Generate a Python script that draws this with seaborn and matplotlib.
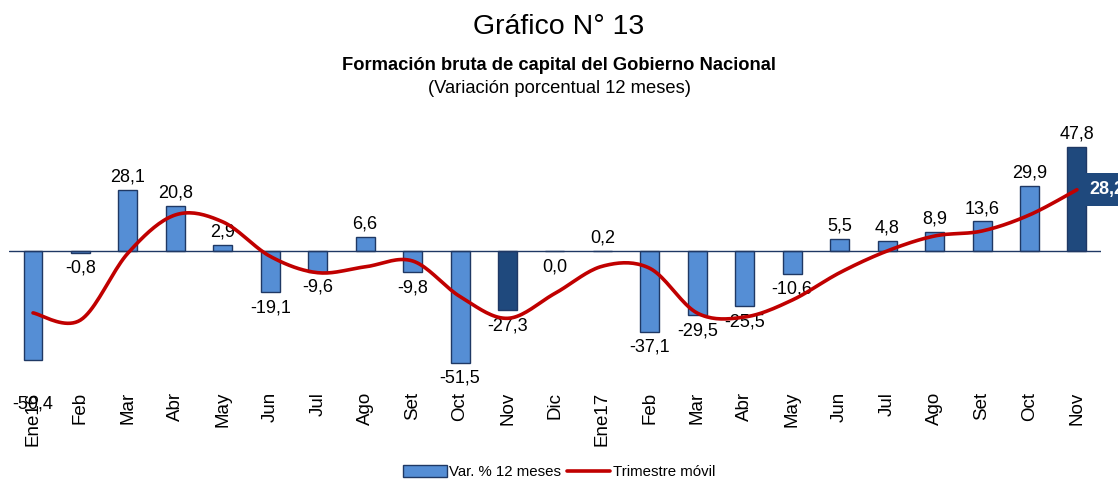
import numpy as np
import pandas as pd
import seaborn as sns
import matplotlib.pyplot as plt
from matplotlib.patches import Patch
from matplotlib.lines import Line2D

# data
periodos = ["Ene16", "Feb16", "Mar16", "Abr16", "May16", "Jun16", "Jul16", "Ago16",
            "Set16", "Oct16", "Nov16", "Dic16", "Ene17", "Feb17", "Mar17", "Abr17",
            "May17", "Jun17", "Jul17", "Ago17", "Set17", "Oct17", "Nov17"]
etiquetas = ["Ene16", "Feb", "Mar", "Abr", "May", "Jun", "Jul", "Ago", "Set", "Oct",
             "Nov", "Dic", "Ene17", "Feb", "Mar", "Abr", "May", "Jun", "Jul", "Ago",
             "Set", "Oct", "Nov"]
var_12m = [-50.4, -0.8, 28.1, 20.8, 2.9, -19.1, -9.6, 6.6, -9.8, -51.5, -27.3, -0.04,
           0.2, -37.1, -29.5, -25.5, -10.6, 5.5, 4.8, 8.9, 13.6, 29.9, 47.8]
trim_movil = [-28.5, -31.8, -1.0, 16.6, 13.4, -2.5, -10.0, -7.3, -4.6, -21.0, -31.0,
              -19.5, -7.0, -8.0, -28.6, -30.4, -22.6, -10.0, 0.0, 6.9, 9.2, 16.6, 28.2]
destacados = ["Nov16", "Nov17"]

C_BAR = "#558ED5"
C_DARK = "#1F497D"
C_EDGE = "#1F3864"
C_LINE = "#C00000"


def smooth(y, steps=20):
    # Excel-style smoothed line (Bezier through the points)
    y = np.asarray(y, dtype=float)
    x = np.arange(len(y), dtype=float)
    xs, ys = [], []
    for i in range(len(y) - 1):
        p0 = (x[i - 1], y[i - 1]) if i > 0 else (x[i], y[i])
        p1 = (x[i], y[i])
        p2 = (x[i + 1], y[i + 1])
        p3 = (x[i + 2], y[i + 2]) if i + 2 < len(y) else p2
        c1 = (p1[0] + (p2[0] - p0[0]) / 6, p1[1] + (p2[1] - p0[1]) / 6)
        c2 = (p2[0] - (p3[0] - p1[0]) / 6, p2[1] - (p3[1] - p1[1]) / 6)
        t = np.linspace(0, 1, steps, endpoint=(i == len(y) - 2))
        b = [(1 - t) ** 3, 3 * (1 - t) ** 2 * t, 3 * (1 - t) * t ** 2, t ** 3]
        xs.append(b[0] * p1[0] + b[1] * c1[0] + b[2] * c2[0] + b[3] * p2[0])
        ys.append(b[0] * p1[1] + b[1] * c1[1] + b[2] * c2[1] + b[3] * p2[1])
    return np.concatenate(xs), np.concatenate(ys)


def fmt(v):
    s = f"{v:.1f}".replace(".", ",")
    return "0,0" if s == "-0,0" else s


df = pd.DataFrame({"periodo": periodos, "var": var_12m})
df["tipo"] = np.where(df["periodo"].isin(destacados), "nov", "normal")

sns.set_style("white")
plt.rcParams["font.family"] = ["Liberation Sans", "DejaVu Sans"]
plt.rcParams["text.color"] = "black"
plt.rcParams["xtick.color"] = "black"

fig = plt.figure(figsize=(11.18, 4.86), dpi=100)
ax = fig.add_axes([0.0083, 0.2078, 0.9762, 0.535])

sns.barplot(data=df, x="periodo", y="var", hue="tipo", dodge=False, width=0.4,
            palette={"normal": C_BAR, "nov": C_DARK}, edgecolor=C_EDGE,
            linewidth=1, saturation=1, legend=False, ax=ax)

sx, sy = smooth(trim_movil)
ax.plot(sx, sy, color=C_LINE, lw=2.6, solid_capstyle="round", zorder=4)

ax.axhline(0, color=C_EDGE, lw=1, zorder=3)
ax.set_xlim(-0.5, len(periodos) - 0.5)
ax.set_ylim(-61.7, 58)
ax.set_yticks([])
ax.set_xticks(range(len(etiquetas)))
ax.set_xticklabels(etiquetas, rotation=90, va="top", ha="center", fontsize=13.5,
                   color="black")
ax.tick_params(axis="x", length=0, pad=5)
ax.set_xlabel("")
ax.set_ylabel("")
sns.despine(ax=ax, left=True, bottom=True, top=True, right=True)

for i, v in enumerate(var_12m):
    if v >= 0:
        ax.annotate(fmt(v), (i, v), xytext=(0, 3), textcoords="offset points",
                    ha="center", va="bottom", fontsize=13, color="black")
    else:
        dy = -25 if i == 0 else -5
        ax.annotate(fmt(v), (i, v), xytext=(0, dy), textcoords="offset points",
                    ha="center", va="top", fontsize=13, color="black")

ax.annotate(fmt(trim_movil[-1]), (len(periodos) - 1, trim_movil[-1]),
            xytext=(9, 0), textcoords="offset points", ha="left", va="center",
            fontsize=13, fontweight="bold", color="white", annotation_clip=False,
            bbox=dict(boxstyle="square,pad=0.45", fc=C_DARK, ec="none"))

fig.text(0.5, 1 - 27 / 486, "Gráfico N° 13", ha="center", va="center", fontsize=20.5,
         color="black")
fig.text(0.5, 1 - 65 / 486, "Formación bruta de capital del Gobierno Nacional",
         ha="center", va="center", fontsize=13.2, fontweight="bold", color="black")
fig.text(0.5, 1 - 88 / 486, "(Variación porcentual 12 meses)",
         ha="center", va="center", fontsize=13.2, color="black")

handles = [Patch(fc=C_BAR, ec=C_EDGE, lw=1), Line2D([0], [0], color=C_LINE, lw=2.6)]
fig.legend(handles, ["Var. % 12 meses", "Trimestre móvil"], loc="center",
           bbox_to_anchor=(0.5, 1 - 472 / 486), ncol=2, frameon=False, fontsize=10.8,
           handlelength=2.9, handleheight=0.8, columnspacing=0.4, handletextpad=0.15,
           labelcolor="black")

plt.savefig("out.png", dpi=100)
